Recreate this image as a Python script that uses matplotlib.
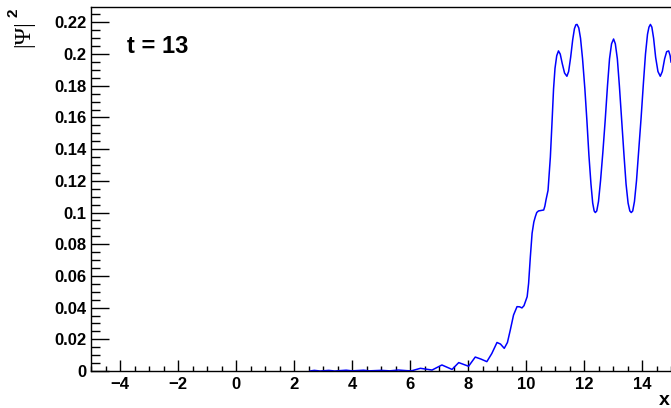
import numpy as np
import matplotlib
matplotlib.use('Agg')
import matplotlib.pyplot as plt
from matplotlib.ticker import MultipleLocator

# |psi|^2 at t = 13
x = [2.55, 2.7, 2.9, 3.2, 3.4, 3.8, 4.0, 4.4, 4.6, 5.0, 5.3, 5.6, 5.9, 6.05,
     6.36, 6.76, 7.1, 7.45, 7.68, 8.02, 8.25, 8.45, 8.65, 8.82, 9.0, 9.12,
     9.25, 9.36, 9.46, 9.57, 9.69, 9.78, 9.86, 9.93, 10.04, 10.09, 10.15,
     10.21, 10.27, 10.32, 10.37, 10.43, 10.52, 10.61, 10.65, 10.69, 10.76,
     10.84, 10.9, 10.95, 11.0, 11.06, 11.12, 11.18, 11.25, 11.33, 11.41,
     11.47, 11.54, 11.61, 11.67, 11.72, 11.76, 11.82, 11.88, 11.95, 12.03,
     12.1, 12.17, 12.24, 12.3, 12.35, 12.39, 12.44, 12.5, 12.57, 12.65,
     12.73, 12.81, 12.88, 12.95, 13.02, 13.08, 13.15, 13.22, 13.3, 13.38,
     13.45, 13.52, 13.58, 13.63, 13.68, 13.74, 13.81, 13.89, 13.97, 14.05,
     14.12, 14.19, 14.24, 14.29, 14.34, 14.4, 14.47, 14.55, 14.63, 14.7,
     14.78, 14.85, 14.92, 14.97, 15.0]
psi2 = [0.0, 0.0004, 0.0, 0.0004, 0.0, 0.0005, 0.0001, 0.0005, 0.0001, 0.0004,
        0.0001, 0.0006, 0.0002, 0.0001,
        0.0017, 0.0006, 0.0038, 0.001, 0.0053, 0.003, 0.0088, 0.0075, 0.0059,
        0.011, 0.018, 0.017,
        0.0143, 0.018, 0.026, 0.0353, 0.0406, 0.0405, 0.0398, 0.0412, 0.0469,
        0.0553, 0.0721,
        0.0869, 0.094, 0.0973, 0.1, 0.101, 0.1013, 0.1016, 0.104, 0.108,
        0.114,
        0.135, 0.158, 0.178, 0.191, 0.199, 0.202, 0.200, 0.194, 0.188, 0.186,
        0.189, 0.198, 0.209, 0.216, 0.2185, 0.2187, 0.2165, 0.210, 0.197,
        0.178,
        0.158, 0.136, 0.118, 0.106, 0.101, 0.100, 0.101, 0.107, 0.120, 0.138,
        0.158, 0.180, 0.197, 0.2065, 0.2095, 0.2065, 0.197, 0.180, 0.158,
        0.136,
        0.118, 0.106, 0.101, 0.100, 0.101, 0.107, 0.120, 0.140, 0.160, 0.182,
        0.200, 0.2125, 0.217, 0.2187, 0.217, 0.210, 0.198, 0.189, 0.186,
        0.189,
        0.197, 0.2015, 0.202, 0.199, 0.195]

plt.rcParams['font.family'] = ['Liberation Sans', 'DejaVu Sans']
plt.rcParams['font.weight'] = 'bold'

fig = plt.figure(figsize=(6.71, 4.08), dpi=100)
ax = fig.add_axes([91 / 671, 1 - 371 / 408, 1 - 91 / 671, (371 - 7) / 408])

ax.plot(x, psi2, color='#0000ff', lw=1.1)

ax.set_xlim(-5, 15)
ax.set_ylim(0, 0.2297)

ax.xaxis.set_major_locator(MultipleLocator(2))
ax.xaxis.set_minor_locator(MultipleLocator(0.5))
ax.yaxis.set_major_locator(MultipleLocator(0.02))
ax.yaxis.set_minor_locator(MultipleLocator(0.005))
ax.yaxis.set_major_formatter(plt.FuncFormatter(lambda v, p: '0' if abs(v) < 1e-9 else f'{v:g}'))

ax.tick_params(axis='x', which='major', direction='in', length=7.6, width=1, labelsize=12, pad=4)
ax.tick_params(axis='x', which='minor', direction='in', length=3.8, width=1)
ax.tick_params(axis='y', which='major', direction='in', length=13, width=1, labelsize=12, pad=3)
ax.tick_params(axis='y', which='minor', direction='in', length=6.5, width=1)
ax.spines['right'].set_visible(False)
for s in ['left', 'bottom', 'top']:
    ax.spines[s].set_linewidth(1)

fig.text(127 / 671, 1 - 53 / 408, 't = 13', fontsize=17, fontweight='bold', va='baseline', ha='left')

# y title |Psi|^2, rotated like the ROOT axis title
fig.text(24 / 671, 1 - 34 / 408, '|Ψ|', family='Liberation Serif', fontsize=17,
         fontweight='normal', rotation=90, ha='center', va='center')
fig.text(13 / 671, 1 - 13 / 408, '2', fontsize=11, fontweight='bold',
         rotation=90, ha='center', va='center')
fig.text(670 / 671, 1 - 405 / 408, 'x', fontsize=14, fontweight='bold', ha='right', va='baseline')

plt.savefig('out.png', dpi=100)
